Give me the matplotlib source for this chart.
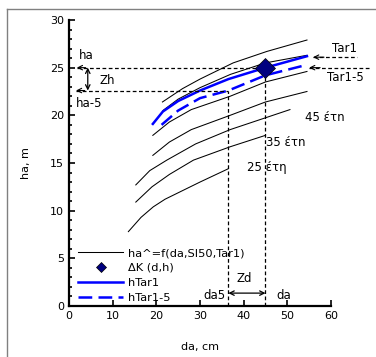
import numpy as np
import matplotlib
matplotlib.use('Agg')
import matplotlib.pyplot as plt
from matplotlib.lines import Line2D

plt.rcParams['font.family'] = ['DejaVu Sans']
plt.rcParams['font.size'] = 8

# curves ha^=f(da,SI50,Tar1) (da, h)
curve_da = [
    [21.4, 26.0, 30.0, 37.6, 45.3, 54.5],
    [21.5, 25.0, 30.0, 37.0, 45.0, 54.5],
    [19.2, 23.0, 28.0, 36.9, 45.0, 54.5],
    [19.2, 23.0, 28.0, 36.9, 45.0, 54.5],
    [15.3, 18.5, 22.4, 29.0, 36.9, 50.6],
    [15.3, 19.0, 23.0, 28.5, 36.9, 45.0],
    [13.6, 16.5, 19.3, 22.0, 30.0, 36.5],
]
curve_h = [
    [21.4, 22.8, 23.8, 25.5, 26.7, 27.9],
    [20.5, 21.7, 22.9, 24.3, 25.5, 26.3],
    [17.9, 19.3, 20.6, 22.0, 23.5, 24.6],
    [15.8, 17.2, 18.5, 20.0, 21.4, 22.5],
    [12.7, 14.2, 15.3, 17.0, 18.5, 20.6],
    [10.9, 12.5, 13.8, 15.3, 16.7, 17.9],
    [7.8, 9.3, 10.4, 11.2, 13.0, 14.4],
]

hTar1_da = [19.2, 21.5, 25.0, 30.0, 36.5, 45.0, 54.5]
hTar1_h = [19.1, 20.4, 21.5, 22.6, 23.8, 25.0, 26.2]
hTar15_da = [21.2, 25.0, 30.0, 36.5, 45.0, 54.5]
hTar15_h = [19.0, 20.5, 21.8, 22.6, 24.2, 25.3]

dK_da = 45.0
dK_h = 25.0
ha5 = 22.6
da5 = 36.5

age_labels = ['45 έτn', '35 έτn', '25 έτη']
age_pos = [(58.6, 19.8), (49.7, 17.2), (45.3, 14.5)]

fig = plt.figure(figsize=(3.76, 3.57), dpi=100)
ax = fig.add_axes([0.1835, 0.1429, 0.6968, 0.8011])

dashed_blue = (0, (5.5, 2.5))

for xs, ys in zip(curve_da, curve_h):
    ax.plot(xs, ys, color='black', lw=0.75)
ax.plot(hTar1_da, hTar1_h, color='blue', lw=1.8)
ax.plot(hTar15_da, hTar15_h, color='blue', lw=1.8, ls=dashed_blue)
ax.plot([dK_da], [dK_h], marker='D', ms=10, color='#000080', mec='black', mew=0.5, zorder=5)

# guide lines
dash = dict(color='black', lw=0.9, ls=(0, (3, 2)))
ax.plot([1.8, dK_da], [dK_h, dK_h], **dash)
ax.plot([1.6, da5], [ha5, ha5], **dash)
ax.plot([da5, da5], [0, ha5], **dash)
ax.plot([dK_da, dK_da], [0, dK_h], **dash)
ax.plot([55.0, 68.9], [dK_h, dK_h], clip_on=False, **dash)
ax.plot([55.9, 66.0], [26.1, 26.1], clip_on=False, **dash)

arr = dict(arrowstyle='->', color='black', lw=0.8, shrinkA=0, shrinkB=0)
ax.annotate('', xy=(1.8, dK_h), xytext=(3.8, dK_h), arrowprops=arr, annotation_clip=False)
ax.annotate('', xy=(1.6, ha5), xytext=(3.6, ha5), arrowprops=arr, annotation_clip=False)
ax.annotate('', xy=(55.0, dK_h), xytext=(57.5, dK_h), arrowprops=arr, annotation_clip=False)
ax.annotate('', xy=(55.9, 26.1), xytext=(58.4, 26.1), arrowprops=arr, annotation_clip=False)

darr = dict(arrowstyle='<->', color='black', lw=0.9, shrinkA=0, shrinkB=0)
ax.annotate('', xy=(4.3, dK_h), xytext=(4.3, ha5), arrowprops=darr)
ax.annotate('', xy=(da5, 1.35), xytext=(dK_da, 1.35), arrowprops=darr)

ax.text(3.9, 26.3, 'ha', ha='center', va='center', fontsize=8.5)
ax.text(4.6, 21.2, 'ha-5', ha='center', va='center', fontsize=8.5)
ax.text(8.8, 23.7, 'Zh', ha='center', va='center', fontsize=8.5)
ax.text(63.1, 27.0, 'Tar1', ha='center', va='center', fontsize=8.5, clip_on=False)
ax.text(63.4, 24.0, 'Tar1-5', ha='center', va='center', fontsize=8.5, clip_on=False)
ax.text(40.2, 2.9, 'Zd', ha='center', va='center', fontsize=8.5)
ax.text(33.3, 1.05, 'da5', ha='center', va='center', fontsize=8.5)
ax.text(49.2, 1.05, 'da', ha='center', va='center', fontsize=8.5)
for lab, (x, y) in zip(age_labels, age_pos):
    ax.text(x, y, lab, ha='center', va='center', fontsize=8.5)

ax.set_xlim(0, 60)
ax.set_ylim(0, 30)
ax.set_xticks(np.arange(0, 61, 10))
ax.set_yticks(np.arange(0, 31, 5))
ax.set_yticks(np.arange(0, 31, 1), minor=True)
ax.tick_params(axis='both', which='major', direction='in', length=4, width=1.2, labelsize=8)
ax.tick_params(axis='y', which='minor', direction='in', length=2.5, width=1.2)
ax.spines['top'].set_visible(False)
ax.spines['right'].set_visible(False)
ax.spines['left'].set_linewidth(1.6)
ax.spines['bottom'].set_linewidth(1.6)
ax.set_xlabel('da, cm', fontsize=8, labelpad=15)
ax.set_ylabel('ha, m', fontsize=8, labelpad=14)

handles = [
    Line2D([], [], color='black', lw=0.75),
    Line2D([], [], ls='none', marker='D', ms=5, color='#000080', mec='black', mew=0.5),
    Line2D([], [], color='blue', lw=1.8),
    Line2D([], [], color='blue', lw=1.8, ls=dashed_blue),
]
labels = ['ha^=f(da,SI50,Tar1)', 'ΔK (d,h)', 'hTar1', 'hTar1-5']
ax.legend(handles, labels, loc='upper left', bbox_to_anchor=(0.034, 0.202), frameon=False,
          handlelength=4.0, handletextpad=0.4, labelspacing=0.42, borderpad=0, borderaxespad=0,
          fontsize=8.2)

# figure border (left and top edges)
fig.add_artist(Line2D([7 / 376, 7 / 376], [0, 1 - 9 / 357], color='#808080', lw=1))
fig.add_artist(Line2D([7 / 376, 1], [1 - 9 / 357, 1 - 9 / 357], color='#808080', lw=1))

fig.savefig('out.png', dpi=100)
